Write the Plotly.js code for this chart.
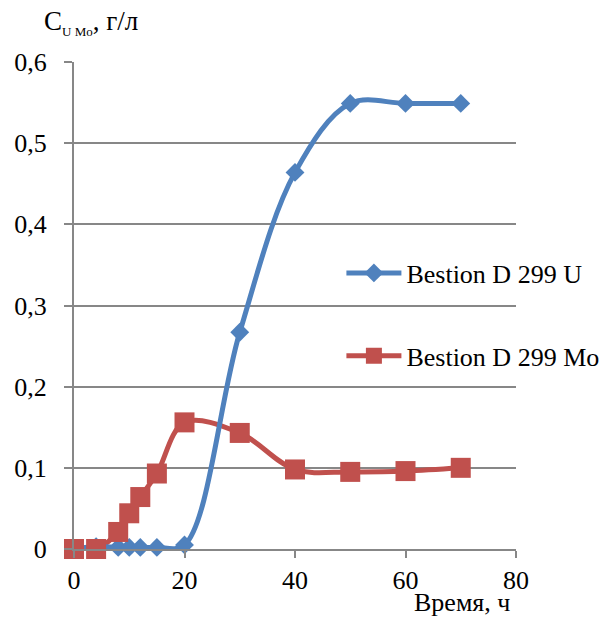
<!DOCTYPE html>
<html>
<head>
<meta charset="utf-8">
<script src="https://cdn.plot.ly/plotly-3.0.1.min.js"></script>
<style>html,body{margin:0;padding:0;background:#fff;}#chart{width:606px;height:619px;}</style>
</head>
<body>
<div id="chart"></div>
<script>
// Data
const timeU = [0, 4, 8, 10, 12, 15, 20, 30, 40, 50, 60, 70];
const concU = [0, 0.003, 0.002, 0.002, 0.002, 0.002, 0.005, 0.267, 0.464, 0.549, 0.549, 0.549];
const timeMo = [0, 4, 8, 10, 12, 15, 20, 30, 40, 50, 60, 70];
const concMo = [0, 0, 0.021, 0.044, 0.064, 0.093, 0.156, 0.143, 0.098, 0.095, 0.096, 0.1];
const nameU = "Bestion D 299 U";
const nameMo = "Bestion D 299 Mo";
const xTickVals = [0, 20, 40, 60, 80];
const xTickText = ["0", "20", "40", "60", "80"];
const yTickVals = [0, 0.1, 0.2, 0.3, 0.4, 0.5, 0.6];
const yTickText = ["0", "0,1", "0,2", "0,3", "0,4", "0,5", "0,6"];

const blue = "#4F81BD";
const red = "#C0504D";
const font = "Liberation Serif, serif";
const fs = 26;

const traces = [
  {x: timeMo, y: concMo, mode: "lines", line: {color: red, width: 5, shape: "spline"}, showlegend: false, hoverinfo: "skip"},
  {x: timeU, y: concU, mode: "lines", line: {color: blue, width: 5, shape: "spline"}, showlegend: false, hoverinfo: "skip"},
  {x: timeU, y: concU, mode: "markers", marker: {symbol: "diamond", size: 14.5, color: blue}, showlegend: false, cliponaxis: false},
  {x: timeMo, y: concMo, mode: "markers", marker: {symbol: "square", size: 20, color: red}, showlegend: false, cliponaxis: false},
  {x: [null], y: [null], name: nameU, mode: "lines+markers", line: {color: blue, width: 5}, marker: {symbol: "diamond", size: 14.5, color: blue}, legendgroup: "u"},
  {x: [null], y: [null], name: nameMo, mode: "lines+markers", line: {color: red, width: 5}, marker: {symbol: "square", size: 20, color: red}, legendgroup: "mo"}
];

const layout = {
  width: 606, height: 619,
  margin: {l: 74, r: 90, t: 62, b: 70, autoexpand: false},
  paper_bgcolor: "#fff", plot_bgcolor: "#fff",
  font: {family: font, size: fs, color: "#000"},
  xaxis: {
    range: [0, 80], tickvals: xTickVals, ticktext: xTickText,
    showgrid: false, zeroline: false, automargin: false,
    showline: true, linecolor: "#878787", linewidth: 2,
    ticks: "outside", ticklen: 7, tickwidth: 2, tickcolor: "#878787",
    tickfont: {family: font, size: fs, color: "#000"}
  },
  yaxis: {
    range: [0, 0.6], tickvals: yTickVals, ticktext: yTickText,
    showgrid: true, gridcolor: "#878787", gridwidth: 2, zeroline: false, automargin: false,
    showline: true, linecolor: "#878787", linewidth: 2,
    ticks: "outside", ticklen: 8, tickwidth: 2, tickcolor: "#878787",
    ticklabelstandoff: 12,
    tickfont: {family: font, size: fs, color: "#000"}
  },
  showlegend: true,
  legend: {
    x: 0.605, y: 0.615, xanchor: "left", yanchor: "top",
    bgcolor: "rgba(0,0,0,0)", font: {family: font, size: fs, color: "#000"},
    traceorder: "grouped", tracegroupgap: 46, itemwidth: 55
  },
  annotations: [
    {text: "C<sub><span style='font-size:13px'>U Mo</span></sub>, г/л", xref: "paper", yref: "paper", x: -0.072, y: 1.082, xanchor: "left", yanchor: "middle", showarrow: false, font: {family: font, size: 27, color: "#000"}},
    {text: "Время, ч", xref: "paper", yref: "paper", x: 0.991, y: -0.11, xanchor: "right", yanchor: "middle", showarrow: false, font: {family: font, size: fs, color: "#000"}}
  ]
};

Plotly.newPlot("chart", traces, layout, {displayModeBar: false, staticPlot: true});
</script>
</body>
</html>
